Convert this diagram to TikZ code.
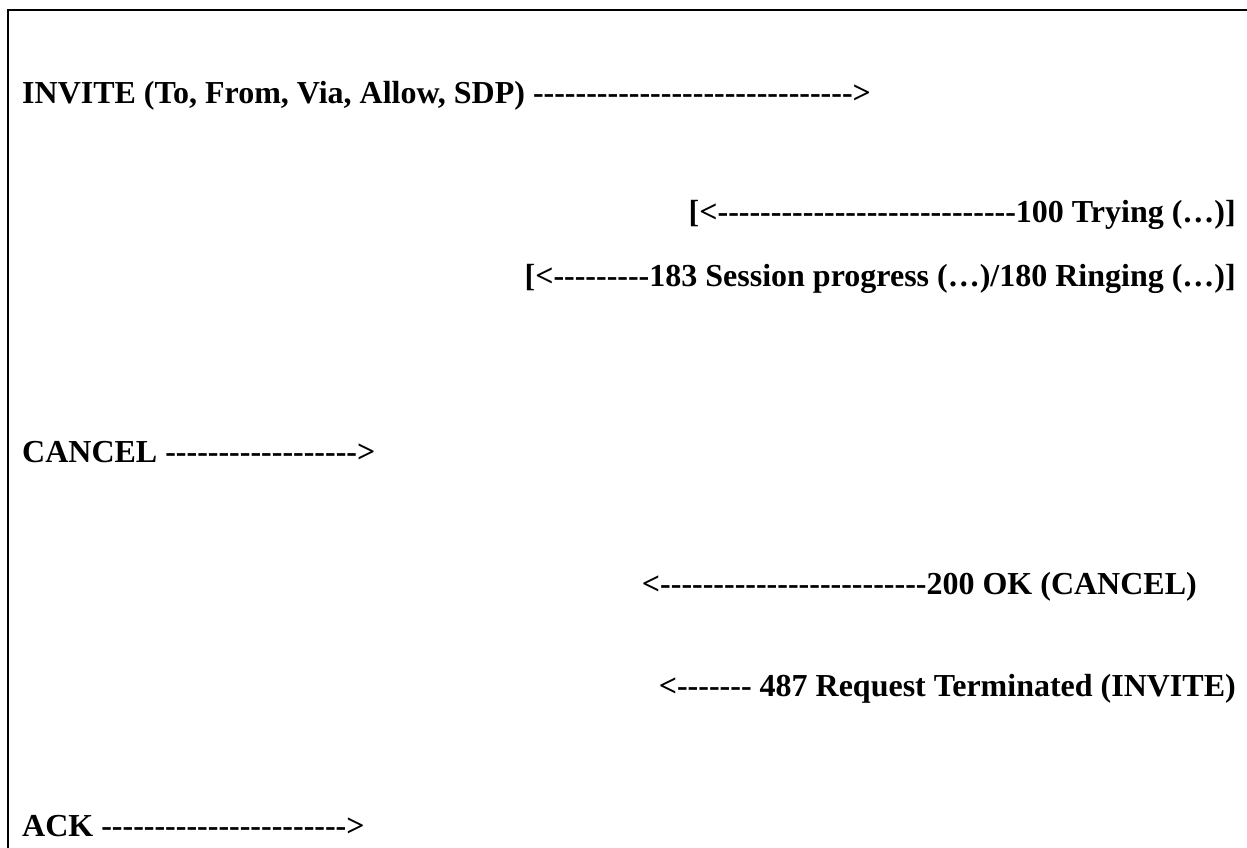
\documentclass[tikz,border=0pt]{standalone}
\usepackage{fontspec}
\setmainfont{Liberation Serif}
\newcommand\dsh[1]{\foreach \k in {1,...,#1}{-}}
\begin{document}
\begin{tikzpicture}[x=1pt,y=-1pt,
  msg/.style={inner sep=0pt,font=\fontsize{32}{38}\selectfont\bfseries},
  frame/.style={line width=2.5pt}]
\useasboundingbox (0,0) rectangle (1247,848);
\coordinate (tl) at (8,10);
\coordinate (tr) at (1247,10);
\coordinate (bl) at (8,848);
\draw[frame] (tr) -- (tl) -- (bl);
\node[msg,anchor=base west] (invite) at (22,104) {INVITE (To, From, Via, Allow, SDP) \dsh{30}>};
\node[msg,anchor=base east] (trying) at (1236,222) {[<\dsh{28}100 Trying (…)]};
\node[msg,anchor=base east] (ringing) at (1236,286) {[<\dsh{9}183 Session progress (…)/180 Ringing (…)]};
\node[msg,anchor=base west] (cancel) at (22,462) {CANCEL \dsh{18}>};
\node[msg,anchor=base east] (ok) at (1197,594) {<\dsh{25}200 OK (CANCEL)};
\node[msg,anchor=base east] (term) at (1236,696) {<\dsh{7} 487 Request Terminated (INVITE)};
\node[msg,anchor=base west] (ack) at (22,836) {ACK \dsh{23}>};
\end{tikzpicture}
\end{document}
